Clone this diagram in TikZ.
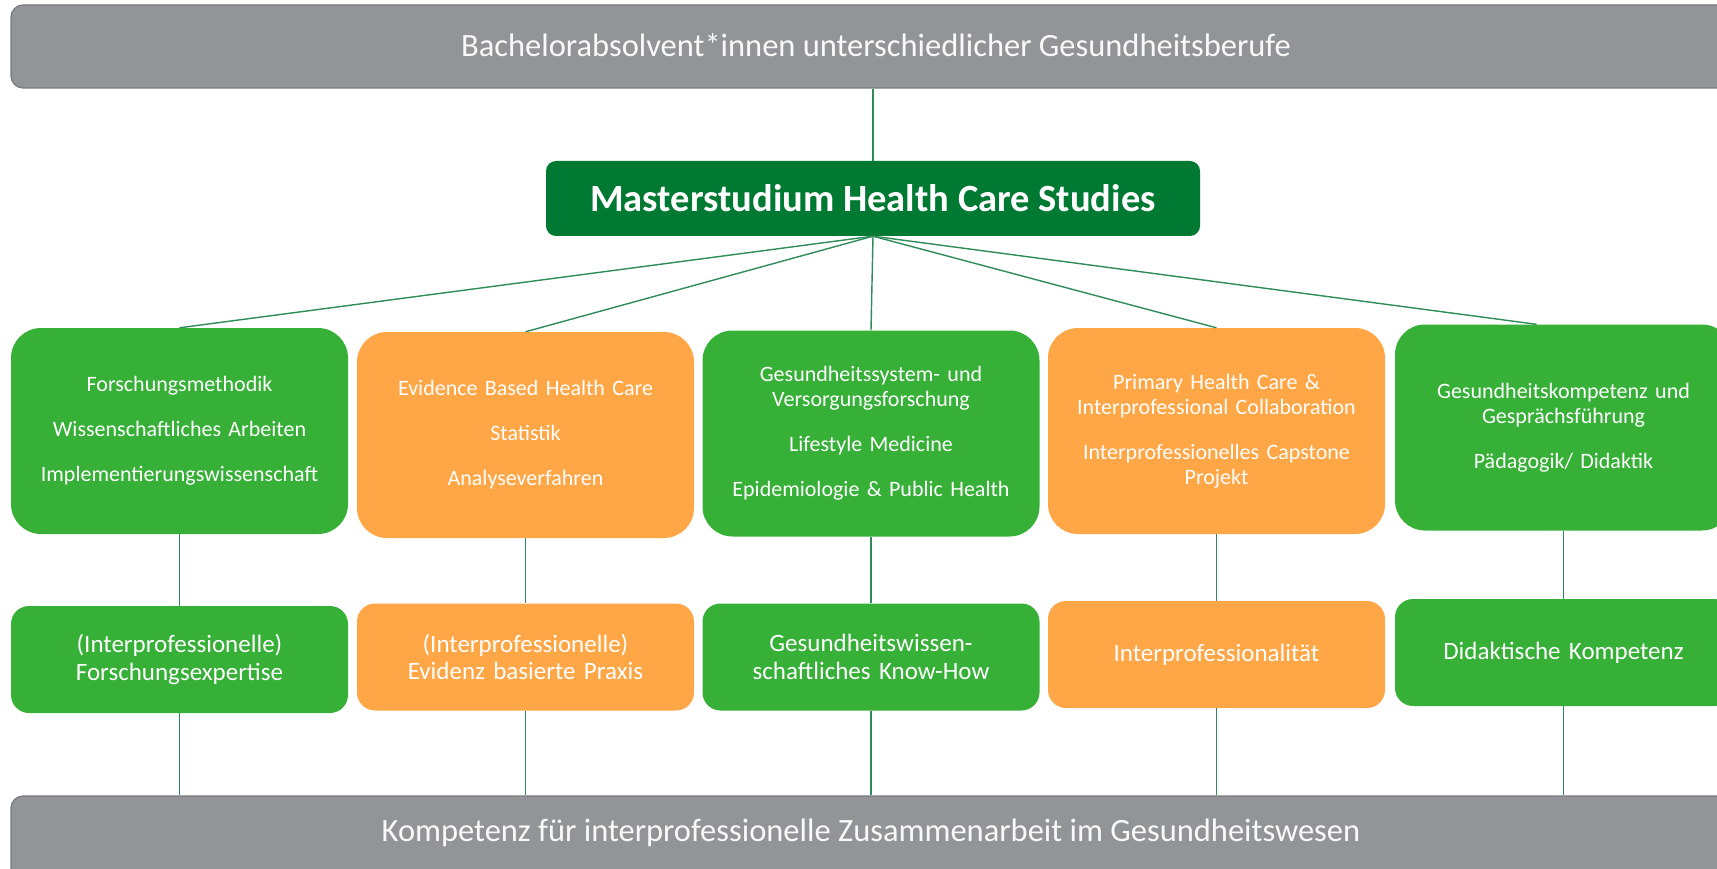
\documentclass[tikz,border=0pt]{standalone}
\usepackage{fontspec}
\setmainfont{Carlito}
\usetikzlibrary{calc}
\definecolor{barGray}{RGB}{147,148,152}
\definecolor{barEdge}{RGB}{120,121,126}
\definecolor{boxGreen}{RGB}{54,176,55}
\definecolor{boxOrange}{RGB}{255,166,70}
\definecolor{darkGreen}{RGB}{0,122,51}
\definecolor{lineGreen}{RGB}{46,140,90}
\tikzset{
  bar/.style={draw=barEdge, line width=1.2pt, fill=barGray, rounded corners=12pt, inner sep=0pt},
  bartext/.style={text=white!95!gray, font=\fontsize{32.5}{38}\selectfont},
  master/.style={fill=darkGreen, rounded corners=10pt, minimum width=654pt, minimum height=75pt, text=white, font=\bfseries\fontsize{38.5}{44}\selectfont, inner sep=0pt},
  topic/.style={rounded corners=30pt, minimum width=337pt, minimum height=206pt, text width=330pt, align=center, text=white, font=\fontsize{22}{25}\selectfont, inner sep=0pt},
  comp/.style={rounded corners=18pt, minimum width=337pt, minimum height=107pt, text width=330pt, align=center, text=white, font=\fontsize{25}{27.5}\selectfont, inner sep=0pt},
  green/.style={fill=boxGreen},
  orange/.style={fill=boxOrange},
  link/.style={draw=lineGreen, line width=1.4pt}
}
\begin{document}
\begin{tikzpicture}[x=1pt,y=-1pt]
\useasboundingbox (0,0) rectangle (1717,869);
\clip (0,0) rectangle (1717,869);
% bars
\node[bar, minimum width=1729pt, minimum height=83pt] (top) at (875.5,46.5) {};
\node[bartext] (toptext) at (876,45) {Bachelorabsolvent*innen unterschiedlicher Gesundheitsberufe};
\node[bar, minimum width=1729pt, minimum height=90pt] (bottom) at (875.5,841) {};
\node[bartext] (bottomtext) at (871,833) {Kompetenz für interprofessionelle Zusammenarbeit im Gesundheitswesen};
% master
\node[master] (master) at (873,198.5) {Masterstudium Health Care Studies};
% topic boxes
\node[topic, green] (b1) at (179.5,431) {Forschungsmethodik\\[20pt]Wissenschaftliches Arbeiten\\[20pt]Implementierungswissenschaft};
\node[topic, orange] (b2) at (525.5,435) {Evidence Based Health Care\\[20pt]Statistik\\[20pt]Analyseverfahren};
\node[topic, green] (b3) at (871,433.5) {Gesundheitssystem- und\\Versorgungsforschung\\[20pt]Lifestyle Medicine\\[20pt]Epidemiologie \& Public Health};
\node[topic, orange] (b4) at (1216.5,431) {Primary Health Care \&\\Interprofessional Collaboration\\[20pt]Interprofessionelles Capstone\\Projekt};
\node[topic, green] (b5) at (1563.5,427.5) {Gesundheitskompetenz und\\Gesprächsführung\\[20pt]Pädagogik/ Didaktik};
% competence boxes
\node[comp, green] (c1) at (179.5,659.5) {(Interprofessionelle)\\Forschungsexpertise};
\node[comp, orange] (c2) at (525.5,657) {(Interprofessionelle)\\Evidenz basierte Praxis};
\node[comp, green] (c3) at (871,657) {Gesundheitswissen-\\schaftliches Know-How};
\node[comp, orange] (c4) at (1216.5,654.5) {Interprofessionalität};
\node[comp, green] (c5) at (1563.5,652.5) {Didaktische Kompetenz};
% connectors
\draw[link] (master.north |- top.south) -- (master.north);
\foreach \b in {b1,b2,b3,b4}{\draw[link] (master.south) -- (\b.north);}
\draw[link] (master.south) -- ($(b5.north)+(-27,0)$);
\foreach \i in {1,...,5}{
  \draw[link] (b\i.south) -- (c\i.north);
  \draw[link] (c\i.south) -- (c\i.south |- bottom.north);
}
\end{tikzpicture}
\end{document}
